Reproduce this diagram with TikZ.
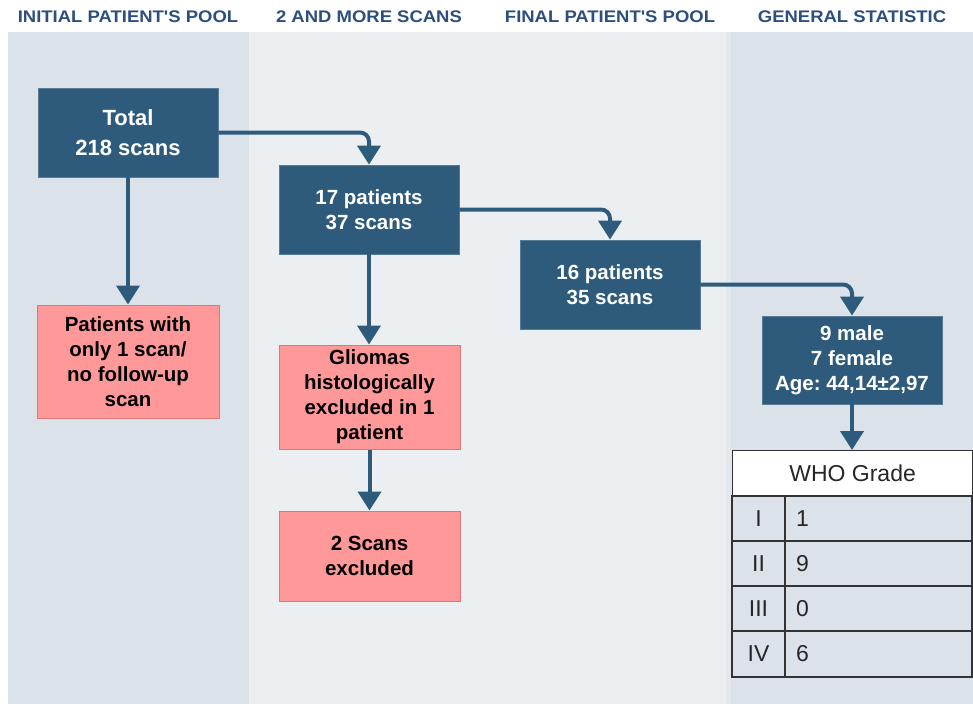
\documentclass[tikz,border=0pt]{standalone}
\usepackage{fontspec}
\setmainfont{Liberation Sans}
\usetikzlibrary{arrows.meta}
\definecolor{colA}{HTML}{DBE2E9}
\definecolor{colB}{HTML}{EBEFF2}
\definecolor{colStrip}{HTML}{E3E8ED}
\definecolor{darkbox}{HTML}{2E5B7C}
\definecolor{pinkbox}{HTML}{FF9999}
\definecolor{pinkedge}{HTML}{D97878}
\definecolor{headblue}{HTML}{2C4F80}
\definecolor{tabline}{HTML}{333333}
\tikzset{
  darknode/.style={fill=darkbox, draw=darkbox!80!white, line width=0.8pt, text=white, align=center,
    minimum width=180pt, inner sep=0pt, font=\bfseries\fontsize{20.5}{25}\selectfont},
  pinknode/.style={fill=pinkbox, draw=pinkedge, line width=1pt, text=black, align=center,
    minimum width=181pt, inner sep=0pt, font=\bfseries\fontsize{20.5}{25}\selectfont},
  header/.style={text=headblue, font=\bfseries\fontsize{16.8}{18}\selectfont, inner sep=0pt},
  arr/.style={draw=darkbox, line width=4pt, rounded corners=9pt,
    -{Triangle[width=23pt,length=19pt]}},
  tabtext/.style={font=\fontsize{23}{26}\selectfont, text=black!85, inner sep=0pt},
}
\begin{document}
\frenchspacing
\begin{tikzpicture}[x=1pt,y=-1pt]
\useasboundingbox (0,0) rectangle (973,704);
% backgrounds
\fill[white] (0,0) rectangle (973,704);
\fill[colA] (8,32) rectangle (249,704);
\fill[colB] (249,32) rectangle (726,704);
\fill[colStrip] (726,32) rectangle (731,704);
\fill[colA] (731,32) rectangle (973,704);
% headers
\node[header] (h1) at (128,17) {\scalebox{1.1}[1]{INITIAL PATIENT\textquotesingle S POOL}};
\node[header] (h2) at (369,17) {\scalebox{1.1}[1]{2 AND MORE SCANS}};
\node[header] (h3) at (610,17) {\scalebox{1.1}[1]{FINAL PATIENT\textquotesingle S POOL}};
\node[header] (h4) at (852,17) {\scalebox{1.1}[1]{GENERAL STATISTIC}};
% nodes
\node[darknode, minimum height=89pt, font=\bfseries\fontsize{22}{30}\selectfont] (total) at (128,132.5) {Total\\218 scans};
\node[darknode, minimum height=89pt] (p17) at (369,209.5) {17 patients\\37 scans};
\node[darknode, minimum height=89pt] (p16) at (610,284.5) {16 patients\\35 scans};
\node[darknode, minimum height=88pt] (stat) at (852,360) {9 male\\7 female\\Age: 44,14±2,97};
\node[pinknode, minimum height=113pt, minimum width=182pt] (only1) at (128,361.5) {Patients with\\only 1 scan/\\no follow-up\\scan};
\node[pinknode, minimum height=104pt] (glio) at (369.5,397) {Gliomas\\histologically\\excluded in 1\\patient};
\node[pinknode, minimum height=90pt] (excl) at (369.5,556) {2 Scans\\excluded};
% table
\node[draw=tabline, line width=1.2pt, fill=white, minimum width=240pt, minimum height=46pt, inner sep=0pt, anchor=north west] (whohead) at (732,450) {};
\node[tabtext] (whotxt) at (whohead.center) {WHO Grade};
\draw[tabline, line width=1.2pt] (732,496) rectangle (972,677);
\draw[tabline, line width=1.2pt] (732,541) -- (972,541);
\draw[tabline, line width=1.2pt] (732,586) -- (972,586);
\draw[tabline, line width=1.2pt] (732,631) -- (972,631);
\draw[tabline, line width=1.2pt] (785,496) -- (785,677);
\node[tabtext] (g1) at (758.5,519) {I};
\node[tabtext] (g2) at (758.5,564) {II};
\node[tabtext] (g3) at (758.5,609) {III};
\node[tabtext] (g4) at (758.5,654) {IV};
\node[tabtext, anchor=west] (v1) at (796,519) {1};
\node[tabtext, anchor=west] (v2) at (796,564) {9};
\node[tabtext, anchor=west] (v3) at (796,609) {0};
\node[tabtext, anchor=west] (v4) at (796,654) {6};
% connectors
\draw[arr] (total.east) -- (p17.north |- total.east) -- (p17.north);
\draw[arr] (total.south) -- (only1.north);
\draw[arr] (p17.east) -- (p16.north |- p17.east) -- (p16.north);
\draw[arr] (p17.south) -- (p17.south |- glio.north);
\draw[arr] (p16.east) -- (stat.north |- p16.east) -- (stat.north);
\draw[arr] (stat.south) -- (stat.south |- whohead.north);
\draw[arr] (glio.south) -- (excl.north);
\end{tikzpicture}
\end{document}
